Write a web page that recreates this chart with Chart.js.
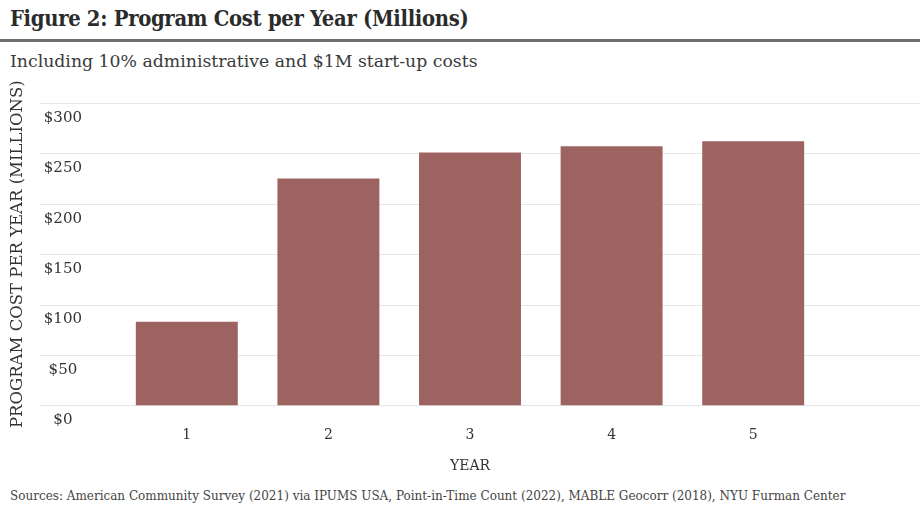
<!DOCTYPE html>
<html>
<head>
<meta charset="utf-8">
<script src="https://cdn.jsdelivr.net/npm/chart.js@4"></script>
<style>
  body { margin: 0; background: #fff; width: 920px; height: 505px; overflow: hidden; position: relative; font-family: "DejaVu Serif", serif; color: #333; }
  #titulo { position: absolute; left: 10px; top: 6px; font-size: 21.8px; font-weight: bold; color: #2b2b2b; font-family: "DejaVu Serif Condensed", "DejaVu Serif", serif; letter-spacing: -0.3px; }
  #regla { position: absolute; left: 0; top: 39px; width: 920px; height: 3px; background: #6e6e6e; }
  #subtitulo { position: absolute; left: 10px; top: 51px; font-size: 17.3px; color: #3a3a3a; font-family: "DejaVu Serif", serif; }
  #fuentes { position: absolute; left: 10px; top: 489px; font-size: 12px; color: #444; font-family: "DejaVu Serif", serif; white-space: nowrap; }
  #lienzo { position: absolute; left: 0; top: 68px; width: 920px; height: 413px; }
</style>
</head>
<body>
<div id="titulo">Figure 2: Program Cost per Year (Millions)</div>
<div id="regla"></div>
<div id="subtitulo">Including 10% administrative and $1M start-up costs</div>
<div id="lienzo"><canvas id="grafico"></canvas></div>
<div id="fuentes">Sources: American Community Survey (2021) via IPUMS USA, Point-in-Time Count (2022), MABLE Geocorr (2018), NYU Furman Center</div>
<script>
// datos
const anios = ['1', '2', '3', '4', '5'];
const costos = [83, 225, 251, 257, 262];
const ticksY = [0, 50, 100, 150, 200, 250, 300];

const colorBarra = '#9c6361';

// lineas de cuadricula a todo lo ancho (como en el original)
const lineasAncho = {
    id: 'lineasAncho',
    beforeDatasetsDraw(chart) {
        const y = chart.scales.y;
        const ctx = chart.ctx;
        ctx.save();
        ctx.strokeStyle = '#e6e6e6';
        ctx.lineWidth = 1;
        ticksY.forEach(v => {
            const py = Math.round(y.getPixelForValue(v)) + 0.5;
            ctx.beginPath();
            ctx.moveTo(40, py);
            ctx.lineTo(chart.width, py);
            ctx.stroke();
        });
        ctx.restore();
    }
};

const ctx = document.getElementById('grafico').getContext('2d');
new Chart(ctx, {
    type: 'bar',
    data: {
        labels: anios,
        datasets: [{ data: costos, backgroundColor: colorBarra, barPercentage: 0.8, categoryPercentage: 0.9 }]
    },
    options: {
        responsive: true,
        maintainAspectRatio: false,
        animation: false,
        layout: { padding: { top: 10, left: 4, right: 96, bottom: 6 } },
        plugins: { legend: { display: false }, tooltip: { enabled: false } },
        scales: {
            x: {
                grid: { display: false },
                border: { display: false },
                ticks: { color: '#333', font: { family: 'DejaVu Serif', size: 14 }, padding: 14 },
                title: { display: true, text: 'YEAR', color: '#333', font: { family: 'DejaVu Serif', size: 14 }, padding: { top: 0, bottom: 0 } }
            },
            y: {
                min: 0, max: 300,
                afterFit: s => { s.width = 112; },
                grid: { display: false },
                border: { display: false },
                afterBuildTicks: s => { s.ticks = ticksY.map(v => ({ value: v })); },
                ticks: {
                    color: '#333',
                    font: { family: 'DejaVu Serif', size: 15 },
                    labelOffset: 15,
                    padding: 26,
                    crossAlign: 'center',
                    callback: v => '$' + v
                },
                title: { display: true, text: 'PROGRAM COST PER YEAR (MILLIONS)', color: '#333', font: { family: 'DejaVu Serif', size: 16.5 }, padding: { bottom: 0 } }
            }
        }
    },
    plugins: [lineasAncho]
});
</script>
</body>
</html>
